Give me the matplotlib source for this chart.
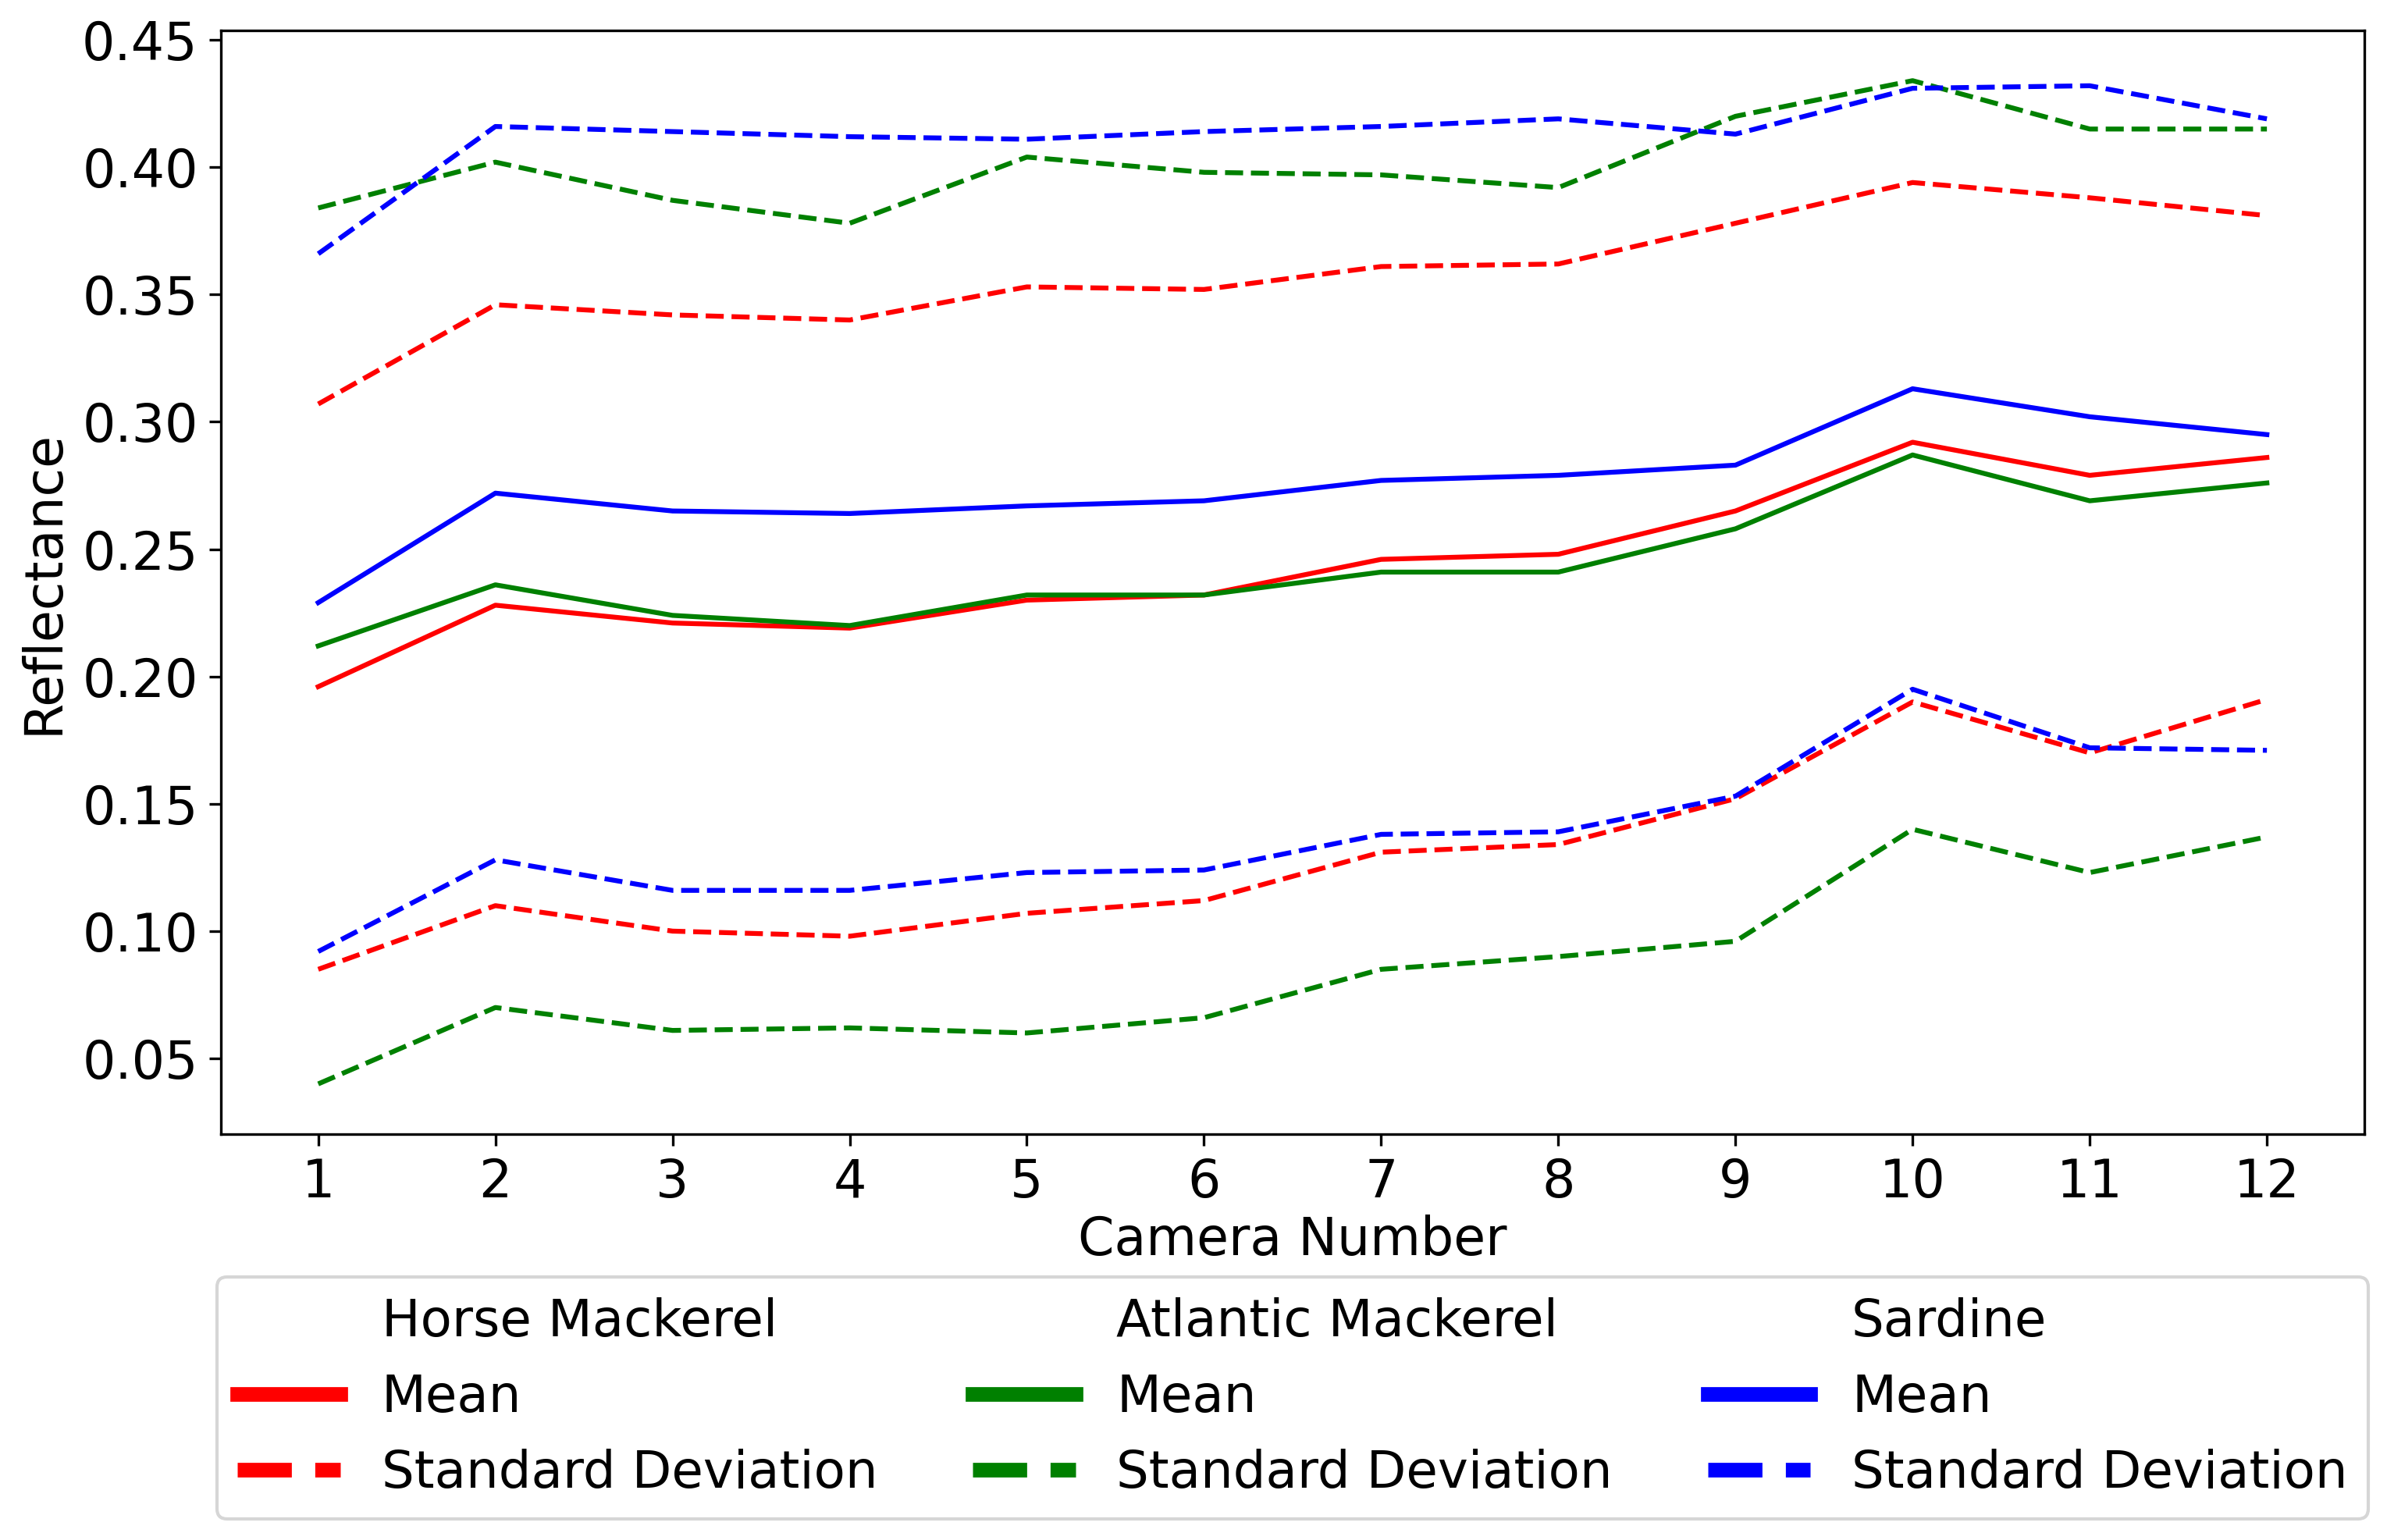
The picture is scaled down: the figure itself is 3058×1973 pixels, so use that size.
import numpy as np
import matplotlib
matplotlib.use("Agg")
import matplotlib.pyplot as plt
from matplotlib.lines import Line2D

# camera numbers
cameras = np.arange(1, 13)

# mean reflectance and standard deviation per species
horse_mean = [0.196, 0.228, 0.221, 0.219, 0.230, 0.232, 0.246, 0.248, 0.265, 0.292, 0.279, 0.286]
horse_std = [0.111, 0.118, 0.121, 0.121, 0.123, 0.120, 0.115, 0.114, 0.113, 0.102, 0.109, 0.095]

atlantic_mean = [0.212, 0.236, 0.224, 0.220, 0.232, 0.232, 0.241, 0.241, 0.258, 0.287, 0.269, 0.276]
atlantic_std = [0.172, 0.166, 0.163, 0.158, 0.172, 0.166, 0.156, 0.151, 0.162, 0.147, 0.146, 0.139]

sardine_mean = [0.229, 0.272, 0.265, 0.264, 0.267, 0.269, 0.277, 0.279, 0.283, 0.313, 0.302, 0.295]
sardine_std = [0.137, 0.144, 0.149, 0.148, 0.144, 0.145, 0.139, 0.140, 0.130, 0.118, 0.130, 0.124]

species = ["Horse Mackerel", "Atlantic Mackerel", "Sardine"]
colores = ["red", "green", "blue"]
medias = [horse_mean, atlantic_mean, sardine_mean]
desvs = [horse_std, atlantic_std, sardine_std]

plt.rcParams['font.size'] = 16

fig = plt.figure(figsize=(3058 / 300, 1973 / 300), dpi=300)
ax = fig.add_axes([0.0925, 0.2636, 0.898, 0.7166])

handles = []
labels = []
for nombre, c, m, s in zip(species, colores, medias, desvs):
    m = np.array(m)
    s = np.array(s)
    ax.plot(cameras, m, color=c, linestyle='-', linewidth=1.5)
    ax.plot(cameras, m + s, color=c, linestyle='--', linewidth=1.5)
    ax.plot(cameras, m - s, color=c, linestyle='--', linewidth=1.5)

    # encabezado sin linea + entradas de la especie
    handles += [Line2D([], [], color='none'),
                Line2D([], [], color=c, linestyle='-'),
                Line2D([], [], color=c, linestyle='--')]
    labels += [nombre, "Mean", "Standard Deviation"]

ax.set_xticks(cameras)
ax.set_xlabel("Camera Number", labelpad=1.8)
ax.set_ylabel("Reflectance")

leg = ax.legend(handles, labels, ncol=3, loc='upper center',
                bbox_to_anchor=(0.5, -0.106), fontsize=15.8,
                handlelength=2.0, columnspacing=1.85)
for line in leg.get_lines():
    line.set_linewidth(4.5)

fig.savefig("out.png", dpi=300)
